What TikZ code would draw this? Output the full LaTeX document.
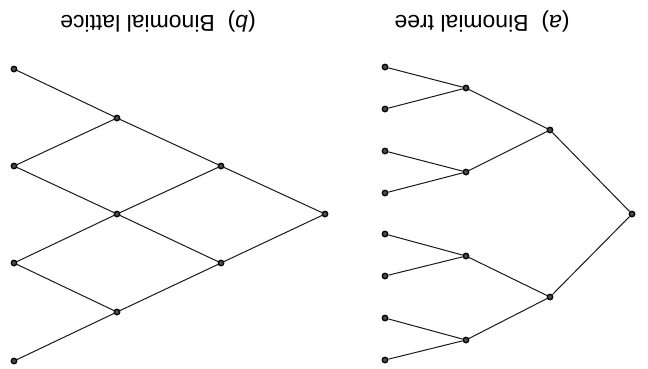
\documentclass[tikz,border=0pt]{standalone}
\usepackage{fontspec}
\setmainfont{Liberation Sans}
\usepackage{tikz}
\usetikzlibrary{positioning}

\begin{document}
\begin{tikzpicture}[x=1pt, y=-1pt,
  dot/.style={circle, draw=black, fill=black!70, line width=1.3pt, inner sep=0pt, minimum size=5.5pt},
  edge/.style={draw=black!90, line width=1pt},
  caption/.style={font=\fontsize{23}{28}\selectfont, rotate=180, inner sep=0pt}]
\useasboundingbox (0,0) rectangle (648,368);
% captions (the whole figure is printed upside down)
\node[caption] (capa) at (482,21) {(\textit{a})\ \ Binomial tree};
\node[caption] (capb) at (158,21) {(\textit{b})\ \ Binomial lattice};
% binomial tree
\node[dot] (r)  at (632,214) {};
\node[dot] (u)  at (550,130) {};
\node[dot] (d)  at (550,297) {};
\node[dot] (uu) at (466,88) {};
\node[dot] (ud) at (466,172) {};
\node[dot] (du) at (466,256) {};
\node[dot] (dd) at (466,340) {};
\node[dot] (l1) at (385,67) {};
\node[dot] (l2) at (385,109) {};
\node[dot] (l3) at (385,151) {};
\node[dot] (l4) at (385,193) {};
\node[dot] (l5) at (385,234) {};
\node[dot] (l6) at (385,276) {};
\node[dot] (l7) at (385,318) {};
\node[dot] (l8) at (385,360) {};
\draw[edge] (r) -- (u);
\draw[edge] (r) -- (d);
\draw[edge] (u) -- (uu);
\draw[edge] (u) -- (ud);
\draw[edge] (d) -- (du);
\draw[edge] (d) -- (dd);
\draw[edge] (uu) -- (l1);
\draw[edge] (uu) -- (l2);
\draw[edge] (ud) -- (l3);
\draw[edge] (ud) -- (l4);
\draw[edge] (du) -- (l5);
\draw[edge] (du) -- (l6);
\draw[edge] (dd) -- (l7);
\draw[edge] (dd) -- (l8);
% binomial lattice
\node[dot] (s0)  at (325,214) {};
\node[dot] (s1a) at (221,166) {};
\node[dot] (s1b) at (221,263) {};
\node[dot] (s2a) at (117,118) {};
\node[dot] (s2b) at (117,214) {};
\node[dot] (s2c) at (117,312) {};
\node[dot] (s3a) at (14,69) {};
\node[dot] (s3b) at (14,166) {};
\node[dot] (s3c) at (14,263) {};
\node[dot] (s3d) at (14,361) {};
\draw[edge] (s0) -- (s1a);
\draw[edge] (s0) -- (s1b);
\draw[edge] (s1a) -- (s2a);
\draw[edge] (s1a) -- (s2b);
\draw[edge] (s1b) -- (s2b);
\draw[edge] (s1b) -- (s2c);
\draw[edge] (s2a) -- (s3a);
\draw[edge] (s2a) -- (s3b);
\draw[edge] (s2b) -- (s3b);
\draw[edge] (s2b) -- (s3c);
\draw[edge] (s2c) -- (s3c);
\draw[edge] (s2c) -- (s3d);
\end{tikzpicture}
\end{document}
